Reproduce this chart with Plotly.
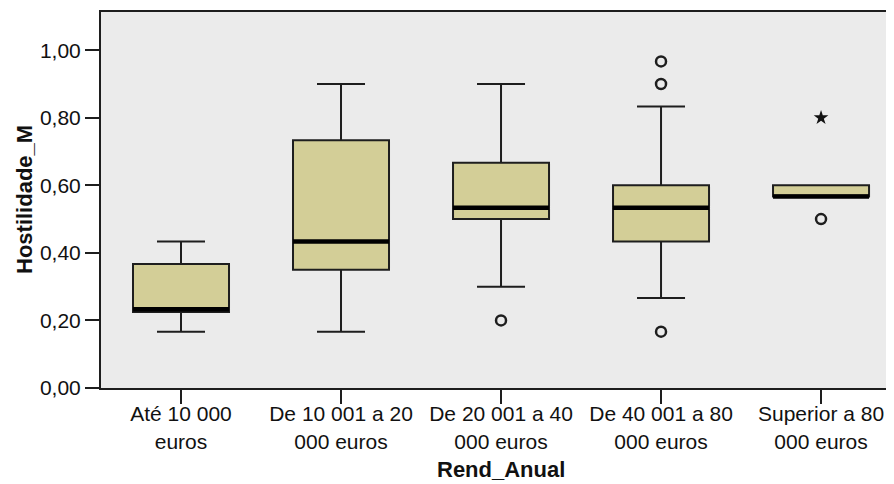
import plotly.graph_objects as go

# ---- data ----
categories = [
    "Até 10 000<br>euros",
    "De 10 001 a 20<br>000 euros",
    "De 20 001 a 40<br>000 euros",
    "De 40 001 a 80<br>000 euros",
    "Superior a 80<br>000 euros",
]
lower_whisker = [0.1667, 0.1667, 0.3000, 0.2667, 0.5667]
q1_values = [0.2250, 0.3500, 0.5000, 0.4333, 0.5667]
median_values = [0.2333, 0.4333, 0.5333, 0.5333, 0.5667]
q3_values = [0.3667, 0.7333, 0.6667, 0.6000, 0.6000]
upper_whisker = [0.4333, 0.9000, 0.9000, 0.8333, 0.6000]

outlier_cat = [2, 3, 3, 3, 4]
outlier_val = [0.2000, 0.9667, 0.9000, 0.1667, 0.5000]
extreme_cat = [4]
extreme_val = [0.8000]

y_tick_vals = [0.0, 0.2, 0.4, 0.6, 0.8, 1.0]
y_tick_text = ["0,00", "0,20", "0,40", "0,60", "0,80", "1,00"]

x_title = "Rend_Anual"
y_title = "Hostilidade_M"

# ---- styles ----
FONT = "Arial, Liberation Sans, sans-serif"
INK = "#1e1e1e"
TXT = "#111111"
BOX_FILL = "#D3CE97"
BG = "#EBEBEB"
BOX_W = 0.6

# the page adds an 8px body margin, so the figure is sized to fill the rest
W, H = 886, 476
M_L, M_T, M_B = 93, 4, 96

positions = list(range(len(categories)))

fig = go.Figure()
fig.add_trace(go.Box(
    x=positions,
    q1=q1_values,
    median=median_values,
    q3=q3_values,
    lowerfence=lower_whisker,
    upperfence=upper_whisker,
    width=BOX_W,
    whiskerwidth=0.5,
    fillcolor=BOX_FILL,
    line=dict(color=INK, width=2),
    boxpoints=False,
    hoverinfo="skip",
))

# thick median bars
for i, m in zip(positions, median_values):
    fig.add_shape(type="line", xref="x", yref="y",
                  x0=i - BOX_W / 2, x1=i + BOX_W / 2, y0=m, y1=m,
                  line=dict(color="black", width=4.5))

fig.add_trace(go.Scatter(
    x=outlier_cat, y=outlier_val, mode="markers",
    marker=dict(symbol="circle-open", size=10, color=INK,
                line=dict(width=2.5, color=INK)),
    hoverinfo="skip",
))
fig.add_trace(go.Scatter(
    x=extreme_cat, y=extreme_val, mode="markers",
    marker=dict(symbol="star", size=11, color="#111"),
    hoverinfo="skip",
))

fig.update_layout(
    width=W, height=H,
    margin=dict(l=M_L, r=0, t=M_T, b=M_B, autoexpand=False),
    paper_bgcolor="white",
    plot_bgcolor=BG,
    showlegend=False,
    font=dict(family=FONT, color=TXT),
)
fig.update_xaxes(
    range=[-0.5, 4.456],
    tickmode="array", tickvals=positions, ticktext=categories,
    ticks="outside", ticklen=14, tickwidth=2, tickcolor=INK,
    ticklabelstandoff=-8,
    showline=True, linewidth=2, linecolor=INK, mirror=True,
    showgrid=False, zeroline=False,
    tickfont=dict(size=21, family=FONT, color=TXT),
)
fig.update_yaxes(
    range=[0, 1.113],
    tickmode="array", tickvals=y_tick_vals, ticktext=y_tick_text,
    ticks="outside", ticklen=14, tickwidth=2, tickcolor=INK,
    showline=True, linewidth=2, linecolor=INK,
    showgrid=False, zeroline=False,
    tickfont=dict(size=21, family=FONT, color=TXT),
)

# axis titles
fig.add_annotation(text=x_title, xref="x", yref="paper", x=2, y=0,
                   yshift=-81, xanchor="center", yanchor="middle",
                   showarrow=False,
                   font=dict(size=22, family=FONT, color=TXT, weight="bold"))
fig.add_annotation(text=y_title, xref="paper", yref="paper", x=0, y=0.5,
                   xshift=-77, textangle=-90, xanchor="center", yanchor="middle",
                   showarrow=False,
                   font=dict(size=22, family=FONT, color=TXT, weight="bold"))

fig.write_html("out.html")
